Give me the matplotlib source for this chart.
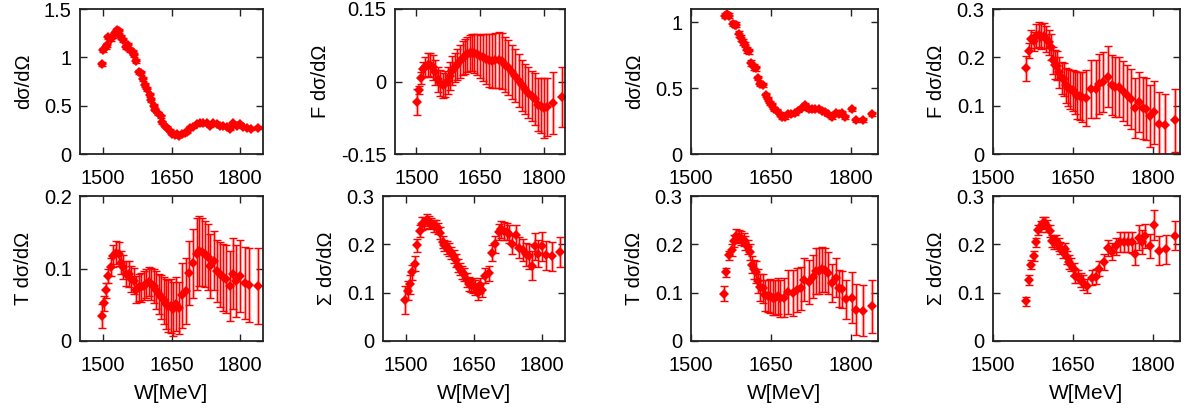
import matplotlib
matplotlib.use('Agg')
import matplotlib.pyplot as plt
from matplotlib.ticker import FuncFormatter

plt.rcParams['font.family'] = ['Liberation Sans', 'DejaVu Sans']

# panel 1: dsigma/dOmega (left half)
w1 = [1498, 1500, 1506, 1509, 1512, 1517, 1522, 1527, 1531, 1535,
      1540, 1545, 1550, 1555, 1560, 1566, 1569, 1573, 1579, 1584,
      1587, 1592, 1597, 1602, 1606, 1611, 1615, 1620, 1626, 1630,
      1635, 1640, 1646, 1651, 1657, 1662, 1666, 1672, 1679, 1684,
      1690, 1698, 1705, 1712, 1719, 1727, 1734, 1741, 1749, 1756,
      1763, 1771, 1778, 1784, 1793, 1800, 1807, 1815, 1823, 1840]
y1 = [0.93, 1.08, 1.11, 1.13, 1.21, 1.19, 1.22, 1.25, 1.28, 1.27,
      1.21, 1.18, 1.11, 1.13, 1.08, 1.06, 1.02, 0.96, 0.85, 0.84,
      0.78, 0.71, 0.67, 0.61, 0.56, 0.50, 0.46, 0.42, 0.39, 0.33,
      0.29, 0.27, 0.24, 0.21, 0.20, 0.21, 0.19, 0.21, 0.22, 0.23,
      0.27, 0.28, 0.31, 0.32, 0.32, 0.32, 0.29, 0.32, 0.31, 0.29,
      0.29, 0.28, 0.26, 0.32, 0.29, 0.31, 0.28, 0.27, 0.26, 0.27]
e1 = [0.02, 0.02, 0.02, 0.02, 0.02, 0.02, 0.02, 0.02, 0.02, 0.02,
      0.02, 0.02, 0.02, 0.02, 0.02, 0.02, 0.02, 0.02, 0.02, 0.02,
      0.02, 0.02, 0.02, 0.02, 0.02, 0.015, 0.015, 0.015, 0.015, 0.015,
      0.015, 0.015, 0.015, 0.015, 0.015, 0.015, 0.015, 0.015, 0.015, 0.015,
      0.015, 0.015, 0.015, 0.015, 0.015, 0.015, 0.015, 0.015, 0.015, 0.015,
      0.015, 0.015, 0.015, 0.015, 0.015, 0.015, 0.015, 0.015, 0.015, 0.015]

# panel 2: F dsigma/dOmega (left half)
w2 = [1501, 1506, 1510, 1515, 1520, 1527, 1533, 1539, 1545, 1550,
      1557, 1562, 1568, 1574, 1579, 1585, 1591, 1597, 1603, 1609,
      1614, 1620, 1626, 1632, 1637, 1644, 1650, 1656, 1663, 1671,
      1679, 1686, 1694, 1702, 1709, 1717, 1725, 1733, 1741, 1749,
      1756, 1764, 1772, 1780, 1787, 1793, 1800, 1807, 1822, 1842]
y2 = [-0.043, -0.018, 0.007, 0.025, 0.030, 0.035, 0.035, 0.029, 0.019, 0.005,
      -0.003, -0.008, -0.005, 0.002, 0.012, 0.022, 0.029, 0.035, 0.042, 0.048,
      0.052, 0.056, 0.059, 0.060, 0.058, 0.056, 0.052, 0.050, 0.046, 0.044,
      0.042, 0.044, 0.044, 0.042, 0.035, 0.029, 0.020, 0.012, 0.002, -0.008,
      -0.015, -0.023, -0.030, -0.037, -0.048, -0.050, -0.055, -0.052, -0.045, -0.033]
e2 = [0.027, 0.008, 0.012, 0.016, 0.020, 0.024, 0.025, 0.025, 0.026, 0.026,
      0.026, 0.026, 0.027, 0.028, 0.029, 0.030, 0.031, 0.032, 0.034, 0.035,
      0.036, 0.037, 0.038, 0.039, 0.040, 0.042, 0.044, 0.048, 0.052, 0.055,
      0.056, 0.057, 0.058, 0.058, 0.057, 0.056, 0.056, 0.055, 0.054, 0.053,
      0.052, 0.052, 0.052, 0.054, 0.055, 0.057, 0.062, 0.060, 0.064, 0.062]

# panel 3: dsigma/dOmega (right half)
w3 = [1563, 1568, 1571, 1578, 1582, 1585, 1590, 1594, 1597, 1602,
      1605, 1608, 1613, 1617, 1621, 1625, 1630, 1635, 1640, 1644,
      1648, 1652, 1656, 1661, 1666, 1670, 1676, 1682, 1688, 1695,
      1701, 1708, 1714, 1720, 1726, 1732, 1739, 1745, 1751, 1757,
      1763, 1771, 1777, 1783, 1789, 1801, 1808, 1821, 1839]
y3 = [1.05, 1.06, 1.05, 0.99, 0.98, 0.98, 0.91, 0.88, 0.85, 0.83,
      0.79, 0.78, 0.69, 0.66, 0.65, 0.58, 0.53, 0.52, 0.45, 0.42,
      0.39, 0.37, 0.34, 0.33, 0.30, 0.28, 0.28, 0.30, 0.30, 0.31,
      0.33, 0.35, 0.37, 0.34, 0.34, 0.34, 0.34, 0.33, 0.32, 0.30,
      0.28, 0.31, 0.30, 0.31, 0.28, 0.34, 0.26, 0.26, 0.30]
e3 = [0.02, 0.02, 0.02, 0.02, 0.02, 0.02, 0.02, 0.02, 0.02, 0.02,
      0.02, 0.02, 0.02, 0.02, 0.02, 0.015, 0.015, 0.015, 0.015, 0.015,
      0.015, 0.015, 0.015, 0.015, 0.015, 0.015, 0.015, 0.015, 0.015, 0.015,
      0.015, 0.015, 0.015, 0.015, 0.015, 0.015, 0.015, 0.015, 0.015, 0.015,
      0.015, 0.015, 0.015, 0.015, 0.015, 0.015, 0.015, 0.015, 0.015]

# panel 4: F dsigma/dOmega (right half)
w4 = [1562, 1567, 1572, 1576, 1581, 1586, 1590, 1595, 1600, 1604,
      1608, 1612, 1616, 1620, 1624, 1629, 1633, 1637, 1641, 1645,
      1649, 1654, 1657, 1662, 1666, 1674, 1684, 1692, 1699, 1706,
      1715, 1722, 1729, 1736, 1744, 1750, 1758, 1766, 1773, 1780,
      1786, 1793, 1802, 1811, 1822, 1840]
y4 = [0.177, 0.214, 0.238, 0.233, 0.245, 0.247, 0.243, 0.245, 0.238, 0.231,
      0.221, 0.194, 0.185, 0.183, 0.169, 0.158, 0.155, 0.142, 0.137, 0.134,
      0.132, 0.127, 0.121, 0.120, 0.118, 0.116, 0.134, 0.135, 0.144, 0.149,
      0.160, 0.142, 0.139, 0.139, 0.130, 0.123, 0.114, 0.096, 0.108, 0.096,
      0.094, 0.079, 0.086, 0.062, 0.060, 0.070]
e4 = [0.025, 0.015, 0.018, 0.020, 0.025, 0.026, 0.026, 0.026, 0.026, 0.026,
      0.027, 0.028, 0.030, 0.030, 0.032, 0.033, 0.034, 0.036, 0.038, 0.040,
      0.042, 0.045, 0.048, 0.050, 0.052, 0.058, 0.060, 0.060, 0.062, 0.062,
      0.063, 0.062, 0.062, 0.062, 0.062, 0.062, 0.062, 0.062, 0.062, 0.064,
      0.064, 0.064, 0.066, 0.066, 0.065, 0.065]

# panel 5: T dsigma/dOmega (left half)
w5 = [1498, 1502, 1506, 1511, 1517, 1523, 1529, 1535, 1540, 1545,
      1551, 1557, 1562, 1567, 1573, 1579, 1584, 1590, 1595, 1600,
      1606, 1611, 1616, 1622, 1627, 1633, 1638, 1643, 1649, 1654,
      1659, 1666, 1673, 1682, 1689, 1698, 1705, 1711, 1716, 1723,
      1729, 1734, 1743, 1749, 1756, 1763, 1769, 1777, 1784, 1791,
      1800, 1810, 1820, 1839]
y5 = [0.0345, 0.052, 0.070, 0.090, 0.102, 0.117, 0.122, 0.120, 0.108, 0.102,
      0.093, 0.092, 0.086, 0.083, 0.071, 0.074, 0.074, 0.076, 0.079, 0.082,
      0.079, 0.076, 0.070, 0.065, 0.061, 0.056, 0.051, 0.048, 0.048, 0.044,
      0.051, 0.046, 0.063, 0.069, 0.094, 0.107, 0.120, 0.124, 0.123, 0.120,
      0.116, 0.103, 0.111, 0.097, 0.092, 0.088, 0.085, 0.076, 0.093, 0.083,
      0.090, 0.080, 0.077, 0.076]
e5 = [0.017, 0.010, 0.010, 0.010, 0.012, 0.015, 0.016, 0.016, 0.016, 0.016,
      0.017, 0.018, 0.018, 0.018, 0.018, 0.019, 0.020, 0.020, 0.020, 0.020,
      0.022, 0.024, 0.026, 0.028, 0.030, 0.032, 0.034, 0.036, 0.037, 0.037,
      0.037, 0.036, 0.045, 0.045, 0.044, 0.047, 0.050, 0.048, 0.047, 0.045,
      0.045, 0.044, 0.041, 0.043, 0.045, 0.046, 0.047, 0.048, 0.049, 0.050,
      0.050, 0.050, 0.051, 0.052]

# panel 6: Sigma dsigma/dOmega (left half)
w6 = [1499, 1504, 1509, 1514, 1520, 1525, 1531, 1536, 1541, 1546,
      1551, 1556, 1561, 1567, 1571, 1576, 1581, 1585, 1590, 1595,
      1600, 1605, 1610, 1614, 1619, 1624, 1629, 1634, 1639, 1643,
      1648, 1653, 1658, 1663, 1668, 1675, 1682, 1689, 1697, 1704,
      1710, 1715, 1722, 1728, 1734, 1742, 1749, 1757, 1764, 1771,
      1777, 1784, 1791, 1799, 1809, 1822, 1838]
y6 = [0.085, 0.104, 0.117, 0.142, 0.160, 0.198, 0.228, 0.243, 0.244, 0.250,
      0.246, 0.243, 0.238, 0.238, 0.233, 0.224, 0.205, 0.198, 0.194, 0.189,
      0.182, 0.175, 0.167, 0.156, 0.149, 0.142, 0.138, 0.126, 0.118, 0.115,
      0.115, 0.111, 0.099, 0.115, 0.106, 0.135, 0.140, 0.182, 0.200, 0.226,
      0.231, 0.228, 0.226, 0.222, 0.200, 0.220, 0.193, 0.188, 0.179, 0.175,
      0.156, 0.196, 0.181, 0.196, 0.177, 0.175, 0.184]
e6 = [0.029, 0.020, 0.020, 0.016, 0.016, 0.014, 0.013, 0.013, 0.013, 0.012,
      0.012, 0.012, 0.012, 0.012, 0.012, 0.012, 0.012, 0.012, 0.013, 0.013,
      0.013, 0.013, 0.013, 0.013, 0.013, 0.013, 0.014, 0.014, 0.014, 0.014,
      0.015, 0.015, 0.015, 0.015, 0.015, 0.016, 0.016, 0.016, 0.017, 0.017,
      0.017, 0.018, 0.018, 0.019, 0.020, 0.021, 0.022, 0.023, 0.024, 0.025,
      0.030, 0.028, 0.028, 0.030, 0.030, 0.030, 0.031]

# panel 7: T dsigma/dOmega (right half)
w7 = [1562, 1566, 1571, 1576, 1580, 1585, 1589, 1594, 1599, 1602,
      1607, 1610, 1614, 1618, 1622, 1626, 1630, 1635, 1639, 1644,
      1648, 1653, 1658, 1662, 1667, 1674, 1682, 1690, 1698, 1705,
      1712, 1720, 1728, 1734, 1740, 1746, 1751, 1757, 1763, 1771,
      1777, 1783, 1791, 1801, 1809, 1821, 1839]
y7 = [0.098, 0.142, 0.177, 0.188, 0.207, 0.218, 0.216, 0.213, 0.210, 0.203,
      0.195, 0.184, 0.158, 0.148, 0.143, 0.124, 0.111, 0.109, 0.095, 0.093,
      0.093, 0.090, 0.090, 0.093, 0.088, 0.090, 0.101, 0.099, 0.106, 0.109,
      0.127, 0.122, 0.133, 0.145, 0.145, 0.148, 0.147, 0.141, 0.120, 0.131,
      0.109, 0.107, 0.086, 0.090, 0.065, 0.063, 0.072]
e7 = [0.016, 0.010, 0.010, 0.012, 0.013, 0.014, 0.014, 0.014, 0.014, 0.014,
      0.015, 0.016, 0.018, 0.020, 0.022, 0.025, 0.028, 0.030, 0.032, 0.034,
      0.035, 0.036, 0.037, 0.038, 0.038, 0.040, 0.045, 0.048, 0.046, 0.045,
      0.045, 0.046, 0.045, 0.047, 0.047, 0.046, 0.045, 0.044, 0.040, 0.040,
      0.038, 0.038, 0.040, 0.053, 0.053, 0.053, 0.055]

# panel 8: Sigma dsigma/dOmega (right half)
w8 = [1561, 1567, 1572, 1576, 1581, 1585, 1589, 1593, 1598, 1601,
      1606, 1610, 1614, 1618, 1623, 1626, 1631, 1634, 1638, 1642,
      1646, 1651, 1654, 1659, 1664, 1668, 1675, 1685, 1692, 1699,
      1707, 1715, 1723, 1730, 1738, 1746, 1752, 1760, 1766, 1773,
      1779, 1785, 1793, 1802, 1811, 1823, 1840]
y8 = [0.082, 0.126, 0.158, 0.176, 0.204, 0.230, 0.237, 0.245, 0.244, 0.238,
      0.228, 0.207, 0.204, 0.207, 0.200, 0.192, 0.184, 0.190, 0.173, 0.164,
      0.158, 0.148, 0.135, 0.133, 0.126, 0.121, 0.114, 0.131, 0.133, 0.150,
      0.164, 0.192, 0.185, 0.196, 0.205, 0.205, 0.205, 0.204, 0.180, 0.214,
      0.205, 0.218, 0.196, 0.240, 0.187, 0.190, 0.218]
e8 = [0.010, 0.010, 0.010, 0.010, 0.010, 0.011, 0.012, 0.012, 0.012, 0.012,
      0.013, 0.013, 0.013, 0.013, 0.013, 0.013, 0.013, 0.013, 0.013, 0.014,
      0.014, 0.014, 0.014, 0.014, 0.014, 0.015, 0.015, 0.015, 0.016, 0.016,
      0.017, 0.017, 0.017, 0.018, 0.020, 0.020, 0.020, 0.022, 0.022, 0.025,
      0.025, 0.025, 0.025, 0.030, 0.030, 0.030, 0.030]

ylabels = ['dσ/dΩ', 'F dσ/dΩ', 'dσ/dΩ', 'F dσ/dΩ',
           'T dσ/dΩ', 'Σ dσ/dΩ', 'T dσ/dΩ', 'Σ dσ/dΩ']
xticks = [1500, 1650, 1800]

panels = [
    (w1, y1, e1, (1450, 1850), (0, 1.5), [0, 0.5, 1, 1.5]),
    (w2, y2, e2, (1450, 1850), (-0.15, 0.15), [-0.15, 0, 0.15]),
    (w3, y3, e3, (1500, 1850), (0, 1.1), [0, 0.5, 1]),
    (w4, y4, e4, (1500, 1850), (0, 0.3), [0, 0.1, 0.2, 0.3]),
    (w5, y5, e5, (1450, 1850), (0, 0.2), [0, 0.1, 0.2]),
    (w6, y6, e6, (1450, 1850), (0, 0.3), [0, 0.1, 0.2, 0.3]),
    (w7, y7, e7, (1500, 1850), (0, 0.3), [0, 0.1, 0.2, 0.3]),
    (w8, y8, e8, (1500, 1850), (0, 0.3), [0, 0.1, 0.2, 0.3]),
]

# axes boxes in pixels: left, right, top, bottom
W, H = 1186, 412
boxes = [(80, 263, 9, 154), (395, 565, 9, 154), (691, 878, 9, 154), (993, 1180, 9, 154),
         (80, 263, 196, 341), (383, 565, 196, 341), (691, 878, 196, 341), (993, 1180, 196, 341)]

fig = plt.figure(figsize=(W / 100, H / 100), dpi=100)
fmt = FuncFormatter(lambda v, p: '%g' % v)

for i, (w, y, e, xl, yl, yt) in enumerate(panels):
    l, r, t, b = boxes[i]
    ax = fig.add_axes([l / W, 1 - b / H, (r - l) / W, (b - t) / H])
    # soft wide bar + thin bar with caps, gnuplot-ish look
    ax.errorbar(w, y, yerr=e, fmt='none', ecolor=(1, 0, 0, 0.35), elinewidth=2.4, capsize=0)
    ax.errorbar(w, y, yerr=e, fmt='none', ecolor='red', elinewidth=0.8,
                capsize=3, capthick=1.0)
    ax.plot(w, y, 'D', color='red', ms=5, mew=0)
    ax.set_xlim(*xl)
    ax.set_ylim(*yl)
    ax.set_xticks(xticks)
    ax.set_yticks(yt)
    ax.yaxis.set_major_formatter(fmt)
    ax.tick_params(direction='in', top=True, right=True, length=5, width=1,
                   labelsize=14.5, colors='#222222', labelcolor='black')
    ax.tick_params(axis='y', pad=6)
    ax.tick_params(axis='x', pad=11)
    for s in ax.spines.values():
        s.set_linewidth(1.3)
        s.set_color('#222222')
    ax.set_ylabel(ylabels[i], fontsize=14.5, labelpad=8)
    if i >= 4:
        ax.set_xlabel('W[MeV]', fontsize=15, labelpad=6)

fig.savefig('out.png', dpi=100)
